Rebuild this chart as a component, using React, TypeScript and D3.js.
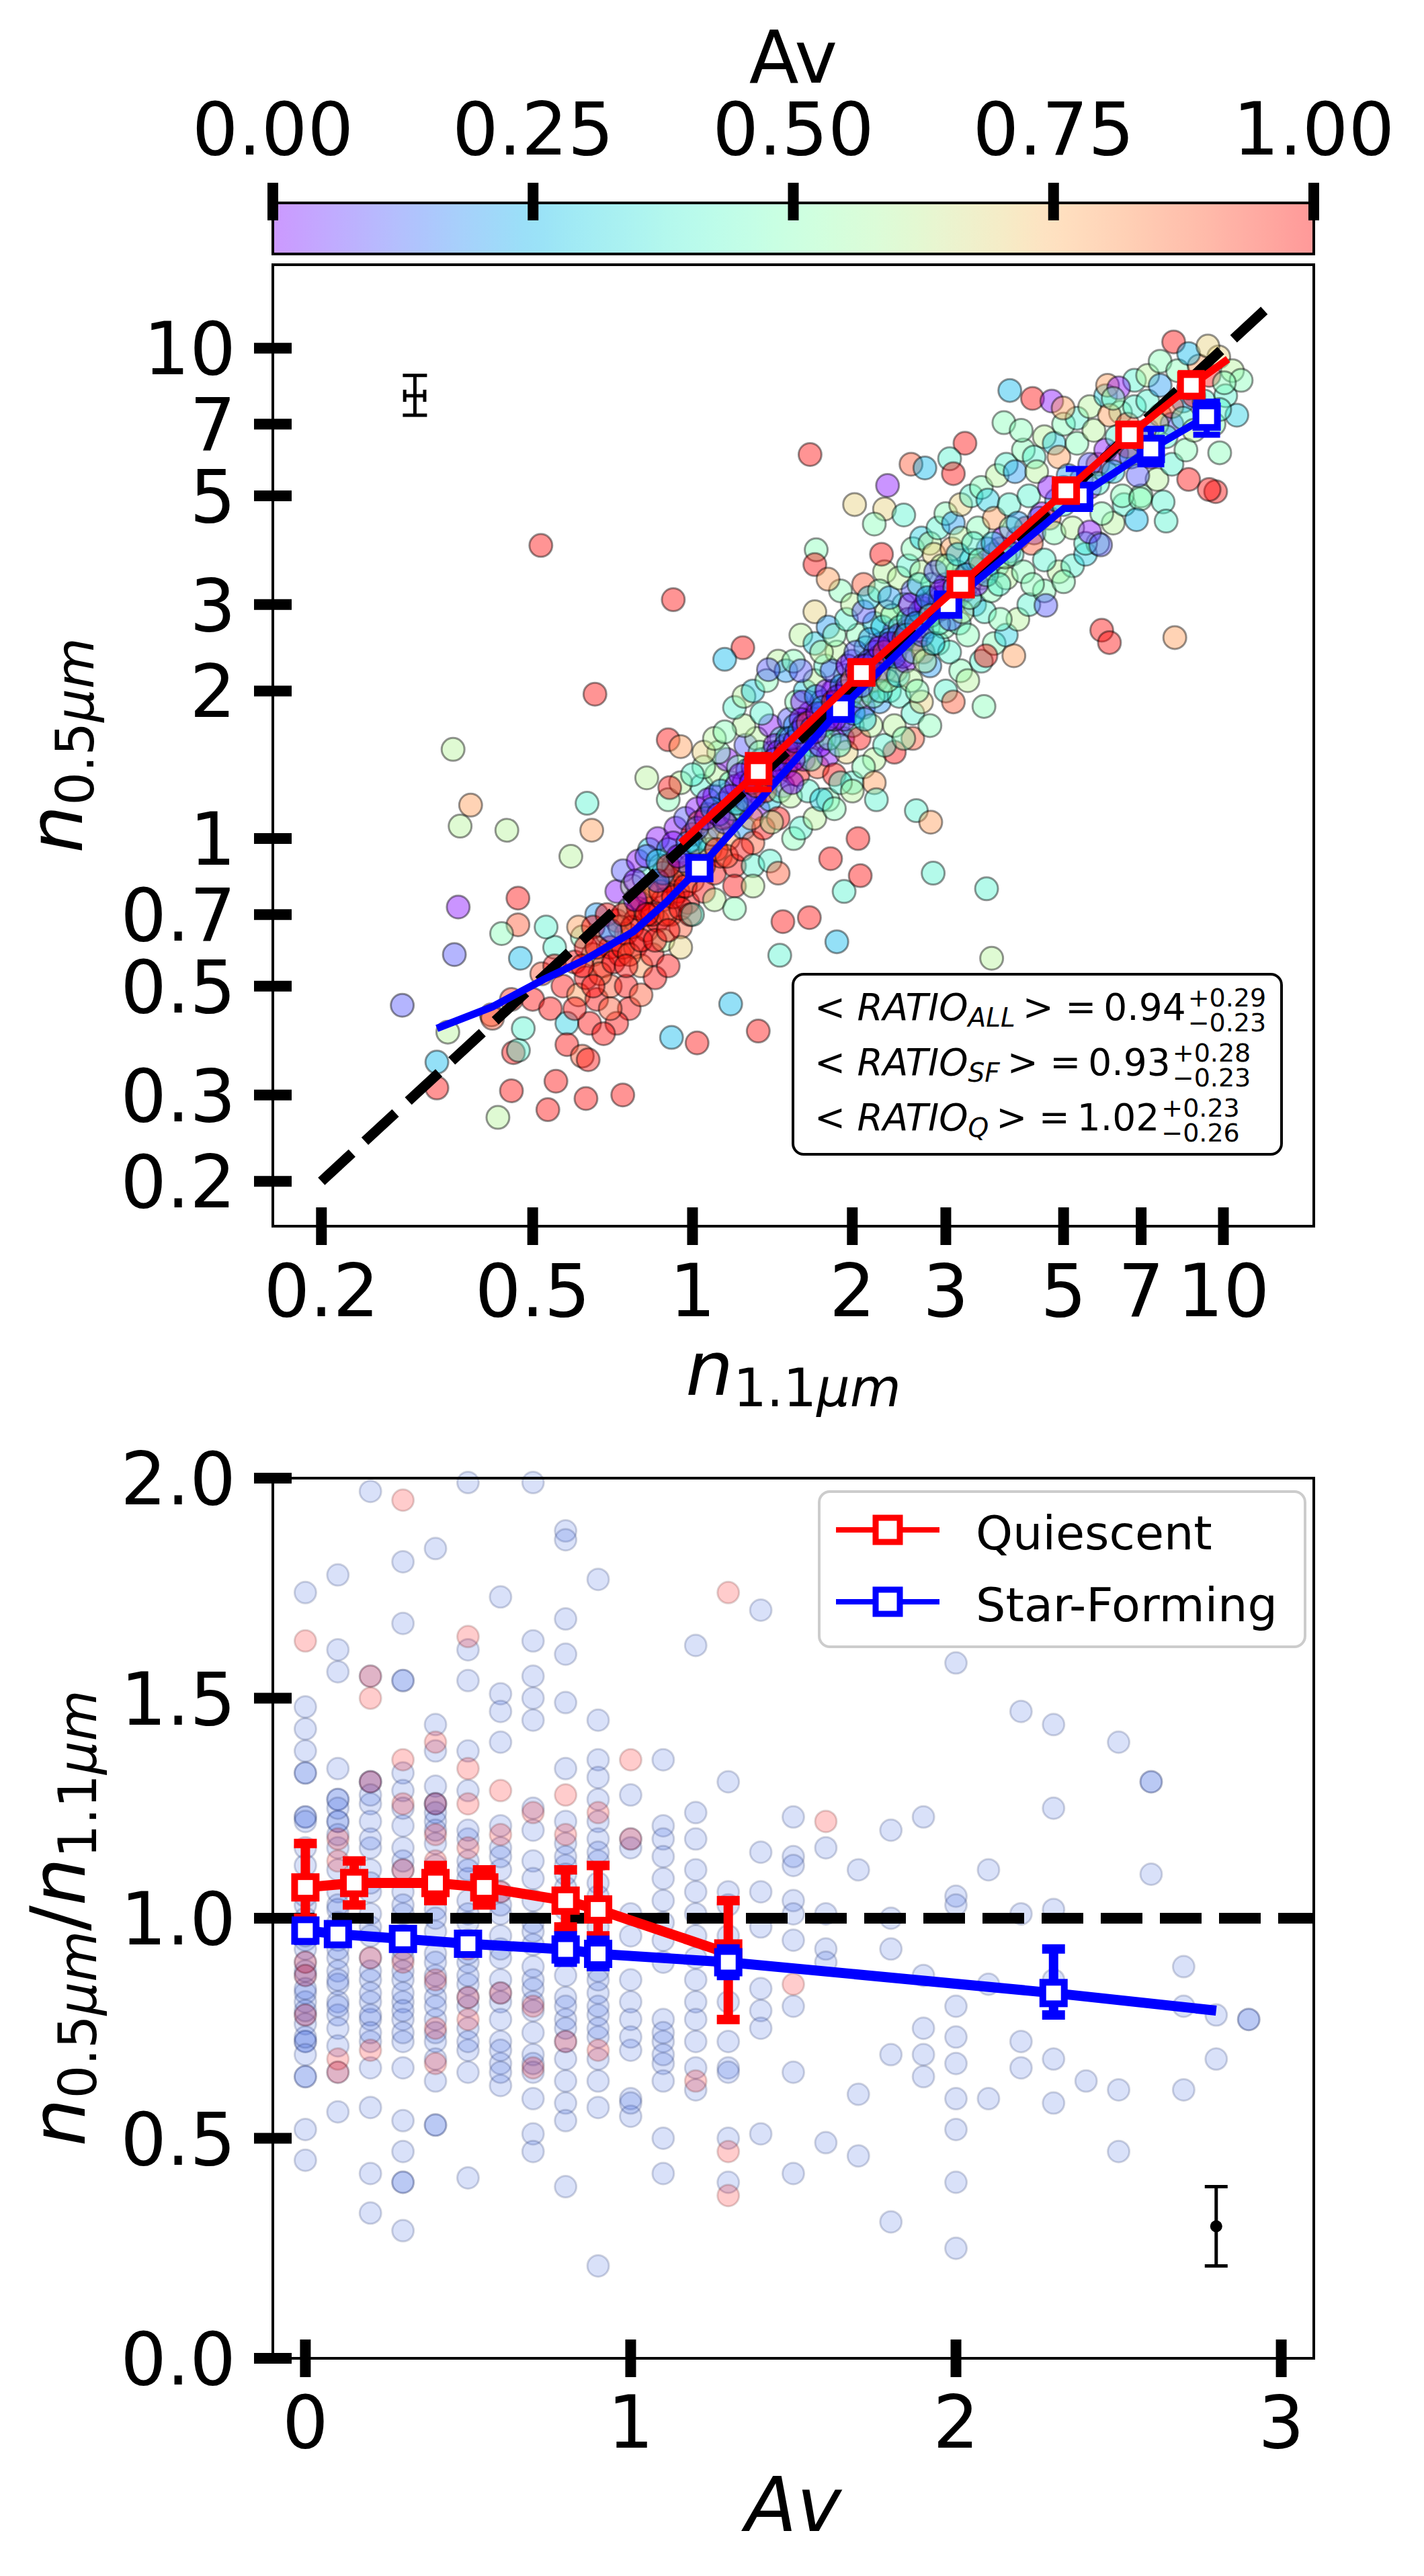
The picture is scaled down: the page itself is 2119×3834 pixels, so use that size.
import { useLayoutEffect, useRef, useState } from "react"
import * as d3 from "d3"

const FONT = "DejaVu Sans"
const W = 2119
const H = 3834

// ---- top panel: scatter of n0.5 vs n1.1, coloured by Av  [n1.1, n0.5, Av]
type Pt = [number, number, number]

const SCATTER_OUTLIERS: Pt[] = [
  [0.284, 0.457, 0.1], [0.33, 0.35, 0.25], [0.33, 0.31, 1], [0.346, 0.403, 0.6], [0.356, 0.58, 0.1],
  [0.362, 0.725, 0], [0.354, 1.52, 0.6], [0.382, 1.17, 0.8], [0.365, 1.06, 0.6], [0.447, 1.04, 0.6],
  [0.469, 0.756, 1], [0.469, 0.667, 0.9], [0.437, 0.64, 0.5], [0.474, 0.57, 0.25], [0.418, 0.437, 0.9],
  [0.456, 0.47, 0.95], [0.43, 0.27, 0.6], [0.456, 0.306, 1], [0.46, 0.366, 1], [0.47, 0.37, 0.4],
  [0.48, 0.41, 0.4], [0.518, 3.96, 1], [0.655, 1.97, 1], [0.633, 1.18, 0.4], [0.646, 1.04, 0.8],
  [0.59, 0.92, 0.6], [0.53, 0.66, 0.4], [0.42, 0.43, 0.9], [0.534, 0.28, 1], [0.553, 0.32, 1],
  [0.63, 0.295, 1], [0.636, 0.354, 1], [0.739, 0.3, 1], [0.913, 0.393, 0.25], [1.02, 0.383, 1],
  [1.18, 0.46, 0.25], [1.33, 0.405, 1], [1.87, 0.616, 0.25], [1.46, 0.578, 0.4], [1.48, 0.677, 1],
  [1.66, 0.69, 1], [1.93, 0.78, 0.4], [2.07, 0.84, 1], [1.82, 0.91, 1], [2.22, 1.2, 0.4],
  [2.64, 1.14, 0.4], [2.81, 1.08, 0.8], [2.84, 0.85, 0.4], [2.05, 1.0, 1], [1.244, 2.45, 1],
  [1.15, 2.32, 0.25], [1.39, 2.21, 0.1], [0.82, 1.33, 0.6], [0.9, 1.59, 1], [0.95, 1.54, 0.8],
  [0.906, 1.27, 1], [1.665, 6.07, 1], [0.92, 3.07, 1], [8.06, 10.3, 1], [8.6, 9.75, 0.25],
  [9.35, 10.1, 0.7], [10.04, 8.5, 0.5], [9.84, 7.5, 0.4], [9.84, 6.12, 0.5], [8.6, 5.4, 1],
  [9.67, 5.1, 1], [9.4, 5.15, 1], [6.98, 4.93, 0.5], [7.7, 4.86, 0.4], [6.86, 4.47, 0.25],
  [7.8, 4.44, 0.4], [5.9, 2.66, 1], [6.1, 2.51, 1], [8.1, 2.57, 0.8], [3.96, 8.2, 0.25],
  [4.37, 7.9, 1], [4.75, 7.8, 0], [4.99, 7.55, 0.8], [6.05, 8.4, 0.8], [6.35, 8.3, 0],
  [6.2, 7.9, 0.5], [3.86, 7.05, 0.5], [4.16, 6.8, 0.5], [3.26, 6.4, 1], [3.05, 5.95, 0.4],
  [2.58, 5.8, 0.9], [2.74, 5.7, 0.25], [3.1, 5.55, 1], [2.33, 5.25, 0], [2.02, 4.8, 0.7],
  [2.3, 4.7, 0.7], [2.5, 4.57, 0.4], [2.2, 4.38, 0.5], [1.71, 3.88, 0.5], [1.7, 3.62, 1],
  [1.8, 3.38, 0.8], [2.27, 3.8, 1], [4.63, 2.99, 0.1], [5.0, 3.34, 0.5], [4.37, 3.3, 0.5],
  [5.6, 4.22, 0], [5.87, 3.97, 0.1], [3.57, 2.36, 1], [4.03, 2.36, 0.8], [3.54, 1.86, 0.5],
  [3.66, 0.57, 0.6], [3.58, 0.79, 0.4],
]

const SCATTER_LOW: Pt[] = [
  [0.5, 0.47, 1], [0.52, 0.53, 0.9], [0.54, 0.45, 1], [0.55, 0.6, 0.4], [0.57, 0.5, 1], [0.58, 0.42, 0.3],
  [0.6, 0.56, 1], [0.61, 0.48, 0.8], [0.62, 0.63, 0.5], [0.63, 0.52, 1], [0.64, 0.42, 1], [0.65, 0.58, 0.6],
  [0.66, 0.7, 0.2], [0.66, 0.47, 1], [0.68, 0.55, 1], [0.69, 0.64, 0.4], [0.7, 0.5, 0.9], [0.7, 0.6, 1],
  [0.72, 0.68, 1], [0.72, 0.78, 0], [0.73, 0.58, 1], [0.74, 0.86, 0.1], [0.75, 0.64, 1], [0.75, 0.5, 1],
  [0.76, 0.72, 0.5], [0.77, 0.8, 0.6], [0.78, 0.6, 1], [0.78, 0.68, 0.9], [0.79, 0.9, 0], [0.8, 0.75, 1],
  [0.8, 0.55, 0.8], [0.81, 0.83, 0.4], [0.82, 0.65, 1], [0.83, 0.95, 0.3], [0.83, 0.72, 1], [0.84, 0.58, 1],
  [0.85, 0.8, 0.7], [0.86, 0.68, 1], [0.86, 1.0, 0], [0.87, 0.88, 0.5], [0.88, 0.75, 1], [0.88, 0.62, 0.6],
  [0.9, 0.82, 1], [0.9, 0.95, 0.2], [0.91, 0.7, 1], [0.92, 0.88, 0.4], [0.93, 1.05, 0], [0.94, 0.78, 1],
  [0.95, 0.66, 0.9], [0.95, 0.92, 0.6], [0.96, 0.85, 1], [0.97, 1.1, 0.1], [0.98, 0.74, 1], [0.99, 0.95, 0.5],
  [1.0, 0.82, 0.8], [1.0, 1.02, 1], [0.76, 0.45, 1], [0.8, 0.48, 0.9], [0.85, 0.52, 1], [0.72, 0.42, 1],
  [0.9, 0.55, 1], [0.95, 0.6, 0.7], [0.61, 0.66, 0.8], [0.63, 0.6, 1], [0.65, 0.66, 1], [0.67, 0.53, 0.9],
  [0.69, 0.7, 1], [0.71, 0.56, 1], [0.73, 0.66, 0.6], [0.74, 0.6, 1], [0.76, 0.58, 0.9], [0.77, 0.66, 1],
  [0.79, 0.72, 1], [0.8, 0.62, 1], [0.82, 0.78, 0.9], [0.84, 0.7, 1], [0.85, 0.62, 1], [0.87, 0.78, 1],
  [0.89, 0.7, 0.9], [0.9, 0.65, 1], [0.92, 0.76, 1], [0.93, 0.85, 0.9], [0.95, 0.72, 1], [0.97, 0.8, 1],
  [0.99, 0.7, 1], [0.99, 0.88, 0.7], [0.78, 0.82, 0], [0.82, 0.92, 0.1], [0.88, 0.85, 0.2], [0.92, 0.98, 0],
  [0.96, 0.9, 0.1], [0.86, 0.9, 0.3], [0.55, 0.55, 1], [0.6, 0.45, 1], [0.65, 0.5, 1], [0.7, 0.45, 0.9],
  [0.75, 0.55, 1], [0.68, 0.4, 1], [0.58, 0.38, 1], [0.62, 0.36, 0.9], [0.62, 0.55, 1], [0.66, 0.6, 1],
  [0.7, 0.65, 0.1], [0.74, 0.7, 1], [0.78, 0.75, 0], [0.82, 0.7, 1], [0.86, 0.82, 0.1], [0.9, 0.88, 1],
  [0.94, 0.92, 0], [0.98, 0.98, 0.2],
]

const SCATTER_MID: Pt[] = [
  [1.02, 1.15, 0], [1.03, 0.9, 1], [1.04, 1.28, 0.4], [1.05, 0.78, 1], [1.06, 1.0, 0.2], [1.07, 1.12, 0.9],
  [1.08, 0.95, 0.5], [1.1, 1.22, 0], [1.1, 0.85, 1], [1.11, 1.35, 0.6], [1.12, 1.05, 0.1], [1.13, 0.92, 1],
  [1.15, 1.18, 0.3], [1.16, 1.45, 0], [1.17, 1.0, 0.8], [1.18, 1.3, 0.45], [1.2, 0.88, 1], [1.2, 1.12, 0],
  [1.22, 1.4, 0.5], [1.23, 1.2, 1], [1.25, 1.05, 0.2], [1.26, 1.55, 0.1], [1.28, 1.25, 0], [1.3, 0.98, 0.9],
  [1.3, 1.35, 0.4], [1.32, 1.6, 0.6], [1.33, 1.15, 0], [1.35, 1.45, 0.2], [1.36, 1.05, 1], [1.38, 1.3, 0.5],
  [1.4, 1.7, 0], [1.4, 1.2, 0.3], [1.42, 1.5, 0.1], [1.44, 1.35, 0.8], [1.45, 1.1, 1], [1.47, 1.6, 0.4],
  [1.48, 1.28, 0], [1.01, 0.98, 0.3], [1.03, 1.08, 0.9], [1.05, 0.88, 1], [1.07, 1.2, 0], [1.09, 1.02, 0.7],
  [1.11, 0.95, 1], [1.13, 1.25, 0.2], [1.14, 1.1, 1], [1.16, 0.92, 0.9], [1.19, 1.15, 0.6], [1.21, 1.28, 0],
  [1.24, 0.95, 1], [1.24, 1.15, 0.4], [1.27, 1.38, 0.2], [1.29, 1.1, 0.8], [1.31, 1.22, 0], [1.34, 1.5, 0.5],
  [1.37, 1.25, 1], [1.39, 1.4, 0.1], [1.41, 1.08, 0.6], [1.43, 1.55, 0], [1.46, 1.25, 0.5], [1.49, 1.45, 0.2],
  [1.12, 1.5, 0.5], [1.25, 1.7, 0.6], [1.35, 1.8, 0.4], [1.05, 1.4, 0.5], [1.2, 0.8, 1], [1.3, 0.88, 0.4],
  [1.5, 1.4, 0], [1.52, 1.75, 0.1], [1.53, 1.22, 0.6], [1.55, 1.55, 0], [1.57, 1.9, 0.5], [1.58, 1.35, 1],
  [1.6, 1.65, 0.1], [1.62, 1.45, 0], [1.63, 2.0, 0.3], [1.65, 1.25, 0.4], [1.66, 1.8, 0], [1.68, 1.55, 0.2],
  [1.7, 2.1, 0.6], [1.72, 1.4, 0.9], [1.73, 1.7, 0], [1.75, 1.9, 0.1], [1.77, 1.6, 0.5], [1.78, 2.25, 0.4],
  [1.8, 1.48, 0], [1.82, 1.8, 0.2], [1.84, 2.0, 0], [1.85, 1.35, 1], [1.87, 2.4, 0.6], [1.88, 1.7, 0.1],
  [1.9, 1.95, 0.3], [1.92, 1.6, 0], [1.94, 2.15, 0.5], [1.95, 1.5, 0.7], [1.97, 1.85, 0], [2.0, 2.3, 0.1],
  [2.0, 1.7, 0.4], [2.02, 2.0, 0], [2.05, 2.6, 0.5], [2.06, 1.6, 1], [2.08, 2.15, 0.2], [2.1, 1.85, 0],
  [2.12, 2.45, 0.4], [2.15, 2.0, 0.1], [2.17, 1.7, 0.6], [2.18, 2.3, 0], [2.2, 2.75, 0.3], [2.22, 2.1, 0.9],
  [2.25, 1.9, 0.2], [2.27, 2.5, 0], [2.3, 2.2, 0.5], [2.32, 2.9, 0.6], [2.35, 2.0, 0.4], [2.37, 2.4, 0.1],
  [2.4, 2.65, 0], [2.42, 2.2, 0.8], [2.45, 1.95, 0.4], [2.47, 2.5, 0.2], [2.5, 3.0, 0.5], [1.6, 2.6, 0.6],
  [1.7, 2.9, 0.7], [1.9, 3.2, 0.5], [2.1, 3.3, 0.9], [2.3, 3.5, 0.6], [1.8, 1.2, 0.5], [2.0, 1.3, 0.4],
  [2.2, 1.45, 0.6], [2.4, 1.5, 1], [2.6, 1.6, 0.9], [1.51, 1.6, 0.3], [1.54, 1.3, 0], [1.56, 1.7, 0.2],
  [1.59, 1.5, 0.5], [1.61, 1.9, 0], [1.64, 1.6, 0.1], [1.67, 1.45, 0.4], [1.69, 1.75, 0], [1.71, 1.95, 0.2],
  [1.74, 1.55, 0], [1.76, 1.7, 0.3], [1.79, 2.0, 0], [1.81, 1.6, 0.5], [1.83, 2.2, 0.1], [1.86, 1.9, 0],
  [1.89, 1.55, 0.4], [1.91, 2.05, 0.2], [1.93, 1.75, 0], [1.96, 2.25, 0], [1.98, 1.95, 0.4], [2.01, 1.8, 0.2],
  [2.03, 2.4, 0.1], [2.07, 1.95, 0.5], [2.09, 2.25, 0], [2.11, 1.75, 0.3], [2.14, 2.15, 0], [2.16, 2.55, 0.2],
  [2.19, 1.95, 0.5], [2.21, 2.4, 0.1], [2.24, 2.2, 0], [2.26, 2.0, 0.4], [2.28, 2.7, 0.3], [2.31, 2.35, 0],
  [2.33, 2.1, 0.6], [2.36, 2.55, 0.2], [2.38, 2.85, 0.5], [2.41, 2.4, 0], [2.44, 2.15, 0.3], [2.46, 2.7, 0.4],
  [2.49, 2.35, 0.1], [1.25, 1.3, 0], [1.3, 1.4, 0], [1.35, 1.35, 0.1], [1.45, 1.5, 0], [1.5, 1.55, 0.1],
  [1.55, 1.45, 0], [1.6, 1.75, 0], [1.7, 1.65, 0], [1.75, 1.8, 0.1], [1.85, 1.75, 0], [1.95, 2.0, 0.1],
  [2.05, 2.1, 0], [2.15, 2.3, 0.1], [2.25, 2.35, 0], [2.4, 2.5, 0.1], [2.55, 2.7, 0], [2.7, 2.8, 0.1], [2.9, 3.0, 0],
]

// crowded ridge along the relation
const SCATTER_RIDGE: Pt[] = [
  [1.02, 1.05, 0.1], [1.06, 1.1, 0], [1.09, 1.15, 0.2], [1.12, 1.12, 0], [1.15, 1.08, 0.1], [1.18, 1.22, 0],
  [1.21, 1.18, 0.3], [1.23, 1.35, 0], [1.26, 1.2, 0.1], [1.29, 1.3, 0], [1.32, 1.28, 0.9], [1.34, 1.4, 0],
  [1.37, 1.42, 0.2], [1.4, 1.35, 0], [1.43, 1.45, 0.1], [1.46, 1.4, 0], [1.5, 1.5, 1], [1.53, 1.6, 0.1],
  [1.56, 1.58, 0], [1.59, 1.65, 0.2], [1.62, 1.7, 0], [1.65, 1.72, 0.9], [1.68, 1.68, 0.1], [1.72, 1.8, 0],
  [1.76, 1.85, 0.2], [1.8, 1.75, 0], [1.84, 1.9, 1], [1.88, 1.95, 0], [1.92, 1.9, 0.1], [1.96, 2.05, 0],
  [2.0, 2.1, 0.8], [2.04, 2.2, 0], [2.08, 2.05, 0.1], [2.12, 2.25, 0], [2.16, 2.2, 1], [2.2, 2.3, 0.1],
  [2.25, 2.45, 0], [2.3, 2.4, 0.9], [2.35, 2.5, 0], [2.4, 2.35, 0.2], [2.45, 2.6, 0.1], [2.5, 2.55, 1],
  [2.55, 2.65, 0], [2.6, 2.8, 0.1], [2.66, 2.7, 1], [2.72, 2.95, 0], [2.78, 2.85, 0.9], [2.85, 3.1, 0.1],
  [2.92, 3.0, 0], [3.0, 3.15, 1], [3.08, 3.2, 0.1], [3.15, 3.1, 0], [3.22, 3.4, 0.9], [3.3, 3.3, 0.2],
  [3.4, 3.55, 0], [3.5, 3.6, 1], [3.6, 3.5, 0.1], [3.7, 3.8, 0], [3.8, 3.9, 0.8], [3.95, 3.85, 0.1],
  [4.1, 4.1, 0], [4.25, 4.3, 1], [4.4, 4.2, 0.1], [4.55, 4.6, 0], [4.7, 4.5, 0.9], [4.85, 4.9, 0.2],
  [5.0, 5.2, 0], [5.2, 5.0, 1], [5.4, 5.4, 0.1], [5.6, 5.2, 0], [5.8, 5.8, 0.9], [6.0, 5.6, 0.1],
  [6.3, 6.1, 0], [6.6, 6.3, 1], [6.9, 6.6, 0.1], [7.2, 6.8, 0], [7.6, 7.3, 0.9], [8.0, 7.0, 0.1],
  [8.4, 7.8, 0.2], [8.8, 8.0, 1],
]

// points away from the one-to-one line (broad band of the cloud)
const SCATTER_SPREAD: Pt[] = [
  [0.9, 1.2, 0.5], [0.95, 1.3, 0.6], [1.0, 1.35, 0.4], [1.05, 1.5, 0.7], [1.1, 1.6, 0.6], [1.15, 1.65, 0.5],
  [1.2, 1.85, 0.4], [1.25, 1.95, 0.6], [1.3, 2.0, 0.3], [1.38, 2.1, 0.5], [1.45, 2.3, 0.6], [1.5, 2.2, 0.2],
  [1.0, 0.7, 0.4], [1.1, 0.75, 0.6], [1.2, 0.72, 0.5], [1.3, 0.8, 0.6], [1.4, 0.9, 0.4], [1.45, 0.85, 0.9],
  [1.55, 1.0, 0.5], [1.6, 1.05, 0.4], [1.7, 1.1, 0.6], [1.75, 1.2, 0.3], [1.85, 1.15, 0.5], [1.9, 1.3, 0.4],
  [2.0, 1.25, 0.6], [2.1, 1.4, 0.5], [2.2, 1.3, 0.8], [2.3, 1.55, 0.4], [2.4, 1.7, 0.6], [2.5, 1.6, 0.5],
  [2.6, 1.8, 0.4], [2.7, 1.9, 0.7], [2.8, 1.7, 0.5], [3.0, 2.0, 0.4], [3.1, 1.9, 0.9], [3.2, 2.2, 0.5],
  [3.3, 2.1, 0.6], [3.5, 2.3, 0.4], [3.7, 2.5, 0.5], [3.9, 2.6, 0.3], [4.1, 2.8, 0.6], [4.3, 3.0, 0.4],
  [4.6, 3.2, 0.5], [4.9, 3.5, 0.6], [5.2, 3.6, 0.4], [5.5, 3.8, 0.3], [5.8, 4.0, 0.5], [6.2, 4.4, 0.6],
  [6.5, 4.8, 0.4], [7.0, 5.0, 0.5], [7.5, 5.4, 0.6], [8.0, 5.8, 0.4], [8.5, 6.2, 0.5], [1.55, 2.3, 0.5],
  [1.6, 2.2, 0.1], [1.7, 2.5, 0.3], [1.75, 2.4, 0.6], [1.8, 2.7, 0.2], [1.85, 2.6, 0.5], [1.95, 2.8, 0.4],
  [2.0, 3.0, 0.6], [2.1, 2.9, 0.1], [2.15, 3.1, 0.3], [2.25, 3.2, 0.5], [2.35, 3.1, 0.2], [2.45, 3.4, 0.6],
  [2.55, 3.6, 0.4], [2.6, 3.9, 0.5], [2.7, 4.1, 0.3], [2.8, 4.0, 0.6], [2.9, 4.3, 0.4], [3.0, 4.6, 0.5],
  [3.1, 4.4, 0.2], [3.2, 4.8, 0.7], [3.35, 5.0, 0.4], [3.5, 5.2, 0.5], [3.6, 4.9, 0.3], [3.75, 5.5, 0.6],
  [3.9, 5.8, 0.4], [4.05, 5.6, 0.2], [4.2, 6.2, 0.5], [4.4, 6.0, 0.4], [4.6, 6.6, 0.6], [4.8, 6.4, 0.3],
  [5.0, 7.0, 0.5], [5.3, 7.2, 0.4], [5.6, 7.6, 0.6], [6.0, 8.0, 0.3], [6.4, 7.4, 0.5], [6.8, 8.6, 0.4],
  [7.2, 8.8, 0.6], [7.6, 9.4, 0.5],
]

const SCATTER_HIGH: Pt[] = [
  [2.52, 2.3, 0], [2.55, 2.8, 0.4], [2.58, 2.1, 0.6], [2.6, 3.2, 0.1], [2.63, 2.55, 0], [2.65, 2.0, 0.5],
  [2.68, 2.9, 0.3], [2.7, 3.5, 0.6], [2.72, 2.4, 0.9], [2.75, 3.0, 0], [2.78, 2.7, 0.4], [2.8, 2.25, 0.2],
  [2.83, 3.3, 0.5], [2.85, 3.8, 0.7], [2.88, 2.9, 0], [2.9, 2.5, 0.4], [2.93, 3.1, 0.1], [2.95, 3.6, 0.6],
  [2.98, 2.7, 0.5], [3.0, 3.3, 0], [3.05, 2.4, 0.4], [3.08, 3.9, 0.8], [3.1, 3.0, 0.3], [3.15, 3.5, 0.5],
  [3.18, 2.75, 0.4], [3.2, 4.1, 0.6], [3.25, 3.2, 0], [3.3, 2.6, 0.5], [3.35, 3.7, 0.4], [3.4, 3.0, 0.2],
  [3.45, 4.3, 0.5], [3.5, 3.4, 0.7], [3.55, 2.9, 0.4], [3.6, 3.9, 0.1], [3.65, 3.2, 0.5], [3.7, 4.5, 0.8],
  [3.75, 3.6, 0.4], [3.8, 2.8, 0.5], [3.85, 4.1, 0], [3.9, 3.4, 0.6], [3.95, 4.8, 0.4], [2.53, 2.6, 0.3],
  [2.57, 3.0, 0], [2.61, 2.4, 0.5], [2.64, 2.75, 0.2], [2.67, 3.3, 0.4], [2.71, 2.6, 0.1], [2.74, 2.3, 0.6],
  [2.77, 3.1, 0.2], [2.81, 2.85, 0.5], [2.84, 2.5, 0.3], [2.87, 3.5, 0.1], [2.91, 2.75, 0.4], [2.94, 3.2, 0],
  [2.97, 2.95, 0.6], [3.02, 3.6, 0.5], [3.06, 2.8, 0.1], [3.12, 3.25, 0.4], [3.16, 3.8, 0.3], [3.22, 2.9, 0.6],
  [3.28, 3.45, 0.2], [3.33, 3.1, 0.5], [3.38, 4.0, 0.4], [3.43, 3.3, 0], [3.48, 3.7, 0.5], [3.58, 3.45, 0.4],
  [3.68, 4.0, 0.3], [3.78, 3.3, 0.4], [3.88, 3.75, 0.6], [3.98, 4.3, 0.5], [4.0, 3.8, 0.4], [4.1, 4.4, 0.2],
  [4.2, 3.5, 0.5], [4.3, 5.0, 0.4], [4.35, 4.0, 0.9], [4.45, 5.6, 0.6], [4.5, 4.5, 0.1], [4.6, 3.7, 0.4],
  [4.7, 5.2, 0], [4.8, 4.2, 0.5], [4.9, 6.0, 0.8], [5.0, 4.8, 0.4], [5.1, 5.5, 0.2], [5.2, 4.3, 0.6],
  [5.3, 6.4, 0.5], [5.4, 5.0, 0], [5.5, 4.0, 0.4], [5.6, 5.8, 0.1], [5.7, 6.8, 0.6], [5.8, 5.3, 0.4],
  [5.9, 4.6, 0.5], [6.0, 6.2, 0], [6.1, 7.3, 0.8], [6.2, 5.6, 0.3], [6.3, 6.6, 0.4], [6.45, 5.0, 0.5],
  [6.6, 7.0, 0.9], [6.7, 6.0, 0.2], [6.8, 7.6, 0.4], [6.9, 5.5, 0.1], [7.0, 6.5, 0.5], [7.2, 7.8, 0.4],
  [7.3, 6.0, 0], [7.5, 7.0, 0.6], [7.6, 8.4, 0.2], [7.8, 6.6, 0.4], [8.0, 7.6, 0.9], [8.2, 9.0, 0.5],
  [8.4, 7.2, 0.4], [8.6, 8.3, 0], [8.8, 6.8, 0.6], [9.0, 9.2, 0.8], [9.2, 7.8, 0.4], [9.4, 8.8, 1],
  [9.6, 7.0, 0.5], [9.8, 9.6, 0.7], [10.1, 8.0, 0.4], [10.4, 9.0, 0.6], [10.6, 7.3, 0.3], [10.8, 8.6, 0.5],
]

// running medians (top panel)
const Q_TOP_X = [0.95, 1.33, 2.08, 3.2, 5.05, 6.65, 8.7, 10.2]
const Q_TOP_Y = [0.98, 1.37, 2.18, 3.3, 5.12, 6.66, 8.4, 9.5]
const Q_TOP_LO = [0, 1.26, 2.08, 3.18, 4.92, 6.4, 8.0, 0]
const Q_TOP_HI = [0, 1.48, 2.3, 3.45, 5.4, 6.95, 8.9, 0]
const Q_TOP_MARK = [false, true, true, true, true, true, true, false]

const SF_TOP_X = [0.33, 0.42, 0.524, 0.631, 0.774, 0.89, 1.03, 1.9, 3.03, 5.35, 7.3, 9.3]
const SF_TOP_Y = [0.41, 0.454, 0.516, 0.568, 0.646, 0.74, 0.87, 1.84, 3.0, 5.0, 6.23, 7.25]
const SF_TOP_LO = [0, 0, 0, 0, 0, 0, 0.84, 1.78, 2.9, 4.7, 5.8, 6.66]
const SF_TOP_HI = [0, 0, 0, 0, 0, 0, 0.9, 1.9, 3.1, 5.67, 6.85, 7.78]
const SF_TOP_MARK = [false, false, false, false, false, false, true, true, true, true, true, true]

const ONE_TO_ONE = [0.2, 12.1]
const TYPICAL_ERR_TOP = { x: 0.3, y: 8.0, xlo: 0.287, xhi: 0.313, ylo: 7.3, yhi: 8.8 }

const RATIO_ROWS = [
  { sub: "ALL", val: "0.94", hi: "+0.29", lo: "\u22120.23" },
  { sub: "SF", val: "0.93", hi: "+0.28", lo: "\u22120.23" },
  { sub: "Q", val: "1.02", hi: "+0.23", lo: "\u22120.26" },
]

const TOP_X_TICKS = [0.2, 0.5, 1, 2, 3, 5, 7, 10]
const TOP_Y_TICKS = [0.2, 0.3, 0.5, 0.7, 1, 2, 3, 5, 7, 10]
const CBAR_TICKS = [0, 0.25, 0.5, 0.75, 1]

// ---- bottom panel: ratio vs Av  [Av, ratios...]
const SF_COLUMNS: [number, number[]][] = [
  [0, [1.74, 1.48, 1.43, 1.38, 1.33, 1.33, 1.23, 1.23, 1.16, 1.12, 1.08, 1.03, 1.0, 0.95, 0.93, 0.9, 0.87, 0.83, 0.81, 0.78, 0.76, 0.72, 0.72, 0.64, 0.64, 0.52, 0.45]],
  [0.1, [1.78, 1.61, 1.56, 1.34, 1.27, 1.27, 1.22, 1.22, 1.16, 1.11, 1.06, 1.03, 0.99, 0.95, 0.91, 0.88, 0.85, 0.81, 0.78, 0.75, 0.65, 0.56]],
  [0.2, [1.97, 1.55, 1.31, 1.31, 1.26, 1.22, 1.16, 1.11, 1.06, 1.01, 0.96, 0.91, 0.86, 0.81, 0.77, 0.72, 0.66, 0.57, 0.42, 0.33]],
  [0.3, [1.81, 1.67, 1.54, 1.54, 1.33, 1.29, 1.21, 1.16, 1.11, 1.06, 1.01, 0.96, 0.91, 0.86, 0.81, 0.77, 0.72, 0.66, 0.54, 0.47, 0.4, 0.4, 0.29]],
  [0.4, [1.84, 1.44, 1.38, 1.3, 1.26, 1.26, 1.22, 1.17, 1.12, 1.07, 1.02, 0.97, 0.92, 0.87, 0.82, 0.77, 0.72, 0.68, 0.63, 0.53, 0.53]],
  [0.5, [1.99, 1.61, 1.54, 1.38, 1.29, 1.18, 1.13, 1.09, 1.04, 0.99, 0.95, 0.9, 0.85, 0.8, 0.75, 0.7, 0.65, 0.41]],
  [0.6, [1.73, 1.51, 1.47, 1.4, 1.21, 1.16, 1.11, 1.06, 1.01, 0.96, 0.91, 0.86, 0.81, 0.77, 0.72, 0.67, 0.62]],
  [0.7, [1.99, 1.63, 1.55, 1.5, 1.45, 1.25, 1.13, 1.09, 1.04, 0.99, 0.94, 0.89, 0.84, 0.79, 0.74, 0.69, 0.65, 0.59, 0.51, 0.47]],
  [0.8, [1.88, 1.86, 1.68, 1.6, 1.49, 1.34, 1.22, 1.17, 1.12, 1.07, 1.02, 0.97, 0.92, 0.87, 0.82, 0.77, 0.72, 0.68, 0.63, 0.58, 0.54, 0.39]],
  [0.9, [1.77, 1.45, 1.36, 1.32, 1.27, 1.22, 1.18, 1.13, 1.08, 1.03, 0.98, 0.93, 0.88, 0.83, 0.78, 0.73, 0.68, 0.63, 0.57, 0.21]],
  [1.0, [1.28, 1.18, 1.16, 1.01, 0.96, 0.86, 0.81, 0.77, 0.7, 0.59, 0.55]],
  [1.1, [1.36, 1.21, 1.18, 1.14, 1.09, 1.04, 0.99, 0.95, 0.9, 0.77, 0.72, 0.67, 0.63, 0.5, 0.42]],
  [1.2, [1.62, 1.24, 1.18, 1.11, 1.06, 1.01, 0.96, 0.91, 0.86, 0.81, 0.77, 0.72, 0.66, 0.61]],
  [1.3, [1.31, 1.06, 1.03, 0.96, 0.91, 0.81, 0.72, 0.66, 0.65, 0.5, 0.4]],
  [1.4, [1.7, 1.15, 1.06, 0.98, 0.84, 0.79, 0.75, 0.51]],
  [1.5, [1.23, 1.14, 1.12, 1.04, 1.01, 0.95, 0.8, 0.65, 0.42]],
  [1.6, [1.16, 1.01, 0.93, 0.9, 0.49]],
  [1.7, [1.11, 0.6, 0.46]],
  [1.8, [1.2, 1.0, 0.93, 0.69, 0.31]],
  [1.9, [1.23, 0.87, 0.75, 0.69, 0.64]],
  [2.0, [1.58, 1.05, 1.03, 0.8, 0.73, 0.67, 0.59, 0.52, 0.4, 0.25]],
  [2.1, [1.11, 0.85, 0.59]],
  [2.2, [1.47, 1.01, 0.72, 0.66]],
  [2.3, [1.44, 1.25, 1.02, 0.86, 0.68, 0.58]],
  [2.4, [0.63]],
  [2.5, [1.4, 0.61, 0.47]],
  [2.6, [1.31, 1.31, 1.1]],
  [2.7, [0.89, 0.8, 0.61]],
  [2.8, [0.78, 0.68]],
  [2.9, [0.77, 0.77]],
]

// galaxies that overlap in the crowded part of the low-Av columns
const SF_COLUMNS_CROWDED: [number, number[]][] = [
  [0, [1.22, 1.05, 0.96, 0.88, 0.84, 0.79, 0.73, 0.69]],
  [0.1, [1.25, 1.19, 1.02, 0.93, 0.86, 0.8, 0.71]],
  [0.2, [1.28, 1.18, 1.08, 0.98, 0.88, 0.83, 0.78, 0.74]],
  [0.3, [1.25, 1.13, 1.03, 0.93, 0.88, 0.83, 0.79, 0.74]],
  [0.4, [1.24, 1.2, 1.1, 1.0, 0.9, 0.85, 0.8, 0.74]],
  [0.5, [1.2, 1.11, 1.01, 0.92, 0.87, 0.82, 0.72]],
  [0.6, [1.14, 1.03, 0.93, 0.83, 0.7, 0.65]],
  [0.7, [1.2, 0.97, 0.86, 0.81, 0.67]],
  [0.8, [1.14, 1.1, 0.94, 0.8, 0.75]],
  [0.9, [1.15, 1.05, 0.86, 0.8, 0.75]],
  [1.0, [0.58, 0.73]],
  [1.1, [0.74, 0.69]],
]

const Q_COLUMNS: [number, number[]][] = [
  [0, [1.63, 0.9, 0.87, 0.78]],
  [0.1, [1.18, 1.13, 0.68, 0.65]],
  [0.2, [1.55, 1.5, 1.31, 0.91, 0.7]],
  [0.3, [1.95, 1.36, 1.26, 1.11, 0.9]],
  [0.4, [1.4, 1.26, 1.19, 1.13, 0.86, 0.75, 0.67]],
  [0.5, [1.64, 1.34, 1.26, 1.16, 0.93, 0.82, 0.77]],
  [0.6, [1.29, 1.19, 1.06, 0.83]],
  [0.7, [1.24, 0.8, 0.66]],
  [0.8, [1.28, 1.19, 0.72]],
  [0.9, [1.24, 0.7]],
  [1.0, [1.36, 1.18]],
  [1.2, [0.63]],
  [1.3, [1.74, 0.47, 0.37]],
  [1.5, [0.85]],
  [1.6, [1.22]],
]

const Q_AV = [0, 0.15, 0.4, 0.55, 0.8, 0.9, 1.3]
const Q_RATIO = [1.07, 1.08, 1.08, 1.07, 1.04, 1.02, 0.92]
const Q_LO = [1.0, 1.03, 1.04, 1.03, 0.98, 0.96, 0.77]
const Q_HI = [1.17, 1.13, 1.12, 1.11, 1.11, 1.12, 1.04]

const SF_AV = [0, 0.1, 0.3, 0.5, 0.8, 0.9, 1.3, 2.3, 2.8]
const SF_RATIO = [0.972, 0.964, 0.953, 0.942, 0.929, 0.919, 0.9, 0.83, 0.79]
const SF_LO = [0.95, 0.95, 0.94, 0.93, 0.9, 0.89, 0.87, 0.78, 0]
const SF_HI = [0.99, 0.98, 0.97, 0.96, 0.96, 0.95, 0.93, 0.93, 0]
const SF_MARK = [true, true, true, true, true, true, true, true, false]

const TYPICAL_ERR_BOT = { x: 2.8, y: 0.3, lo: 0.21, hi: 0.39 }

const BOT_X_TICKS = [0, 1, 2, 3]
const BOT_Y_TICKS = [0, 0.5, 1, 1.5, 2]

// ---- layout
const TOP = { left: 406, right: 1955, top: 394, bottom: 1825 }
const CBAR = { top: 302, bottom: 378 }
const BOT = { left: 406, right: 1955, top: 2200, bottom: 3510 }
const TICK_FS = 108
const LABEL_FS = 112
const TICK_W = 16
const TICK_HALF = 28

const xTop = d3.scaleLog().domain([0.162, 14.8]).range([TOP.left, TOP.right])
const yTop = d3.scaleLog().domain([0.162, 14.8]).range([TOP.bottom, TOP.top])
const cbar = d3.scaleLinear().domain([0, 1]).range([TOP.left, TOP.right])
const xBot = d3.scaleLinear().domain([-0.1, 3.1]).range([BOT.left, BOT.right])
const yBot = d3.scaleLinear().domain([0, 2]).range([BOT.bottom, BOT.top])

// matplotlib "rainbow"
function rainbow(t: number) {
  const v = Math.max(0, Math.min(1, t))
  return d3.rgb(
    Math.min(1, Math.abs(2 * v - 0.5)) * 255,
    Math.sin(Math.PI * v) * 255,
    Math.cos((Math.PI * v) / 2) * 255
  )
}
function overWhite(c: d3.RGBColor, a: number) {
  return d3.rgb(c.r * a + 255 * (1 - a), c.g * a + 255 * (1 - a), c.b * a + 255 * (1 - a)).formatHex()
}

function Square({ x, y, color, size = 32, sw = 10 }: { x: number; y: number; color: string; size?: number; sw?: number }) {
  return <rect x={x - size / 2} y={y - size / 2} width={size} height={size} fill="white" stroke={color} strokeWidth={sw} />
}

function ErrBar({ x, y1, y2, color, w, cap }: { x: number; y1: number; y2: number; color: string; w: number; cap: number }) {
  return (
    <g stroke={color}>
      <line x1={x} x2={x} y1={y1} y2={y2} strokeWidth={w} />
      <line x1={x - cap / 2} x2={x + cap / 2} y1={y1} y2={y1} strokeWidth={w} />
      <line x1={x - cap / 2} x2={x + cap / 2} y1={y2} y2={y2} strokeWidth={w} />
    </g>
  )
}

function RatioLine({ x, y, sub, val, hi, lo }: { x: number; y: number; sub: string; val: string; hi: string; lo: string }) {
  const ref = useRef<SVGTextElement>(null)
  const [w, setW] = useState(0)
  useLayoutEffect(() => {
    if (ref.current) setW(ref.current.getComputedTextLength())
  }, [])
  return (
    <g fontFamily={FONT}>
      <text ref={ref} x={x} y={y} fontSize={55}>
        <tspan>{"< "}</tspan>
        <tspan fontStyle="italic">RATIO</tspan>
        <tspan fontStyle="italic" fontSize={39} dy={10}>{sub}</tspan>
        <tspan dy={-10}>{"\u2009> =\u2009" + val}</tspan>
      </text>
      {w > 0 && (
        <g fontSize={38}>
          <text x={x + w + 3} y={y - 20}>{hi}</text>
          <text x={x + w + 3} y={y + 17}>{lo}</text>
        </g>
      )}
    </g>
  )
}

function TopPanel() {
  const points = [...SCATTER_LOW, ...SCATTER_MID, ...SCATTER_SPREAD, ...SCATTER_RIDGE, ...SCATTER_HIGH, ...SCATTER_OUTLIERS]
  const lineTop = d3.line<number>()
  const sfPath = lineTop(SF_TOP_X.map((v, i) => [xTop(v), yTop(SF_TOP_Y[i])]) as any) ?? ""
  const qPath = lineTop(Q_TOP_X.map((v, i) => [xTop(v), yTop(Q_TOP_Y[i])]) as any) ?? ""
  const stops = d3.range(0, 1.0001, 0.02)
  const e = TYPICAL_ERR_TOP
  return (
    <g>
      {/* colourbar */}
      <defs>
        <linearGradient id="cbar" x1="0" x2="1" y1="0" y2="0">
          {stops.map((s) => (
            <stop key={s} offset={s} stopColor={overWhite(rainbow(s), 0.4)} />
          ))}
        </linearGradient>
      </defs>
      <rect x={TOP.left} y={CBAR.top} width={TOP.right - TOP.left} height={CBAR.bottom - CBAR.top} fill="url(#cbar)" stroke="black" strokeWidth={4} />
      {CBAR_TICKS.map((t) => (
        <g key={t}>
          <line x1={cbar(t)} x2={cbar(t)} y1={CBAR.top - TICK_HALF - 2} y2={CBAR.top + TICK_HALF - 2} stroke="black" strokeWidth={TICK_W} />
          <text x={cbar(t)} y={230} textAnchor="middle" fontSize={TICK_FS} fontFamily={FONT}>{t.toFixed(2)}</text>
        </g>
      ))}
      <text x={(TOP.left + TOP.right) / 2} y={123} textAnchor="middle" fontSize={TICK_FS} fontFamily={FONT}>Av</text>

      {/* scatter */}
      {points.map((p, i) => (
        <circle key={i} cx={xTop(p[0])} cy={yTop(p[1])} r={17} fill={rainbow(p[2]).formatHex()} fillOpacity={0.42} stroke="black" strokeOpacity={0.42} strokeWidth={3} />
      ))}

      {/* 1:1 */}
      <line x1={xTop(ONE_TO_ONE[0])} y1={yTop(ONE_TO_ONE[0])} x2={xTop(ONE_TO_ONE[1])} y2={yTop(ONE_TO_ONE[1])} stroke="black" strokeWidth={15} strokeDasharray="62 26" />

      {/* star-forming */}
      <path d={sfPath} fill="none" stroke="blue" strokeWidth={11} />
      {SF_TOP_X.map((v, i) =>
        SF_TOP_MARK[i] ? (
          <g key={i}>
            <ErrBar x={xTop(v)} y1={yTop(SF_TOP_HI[i])} y2={yTop(SF_TOP_LO[i])} color="blue" w={9} cap={40} />
            <Square x={xTop(v)} y={yTop(SF_TOP_Y[i])} color="blue" />
          </g>
        ) : null
      )}
      {/* quiescent */}
      <path d={qPath} fill="none" stroke="red" strokeWidth={11} />
      {Q_TOP_X.map((v, i) =>
        Q_TOP_MARK[i] ? (
          <g key={i}>
            <ErrBar x={xTop(v)} y1={yTop(Q_TOP_HI[i])} y2={yTop(Q_TOP_LO[i])} color="red" w={9} cap={40} />
            <Square x={xTop(v)} y={yTop(Q_TOP_Y[i])} color="red" />
          </g>
        ) : null
      )}

      {/* typical error */}
      <g stroke="black" strokeWidth={5}>
        <line x1={xTop(e.x)} x2={xTop(e.x)} y1={yTop(e.yhi)} y2={yTop(e.ylo)} />
        <line x1={xTop(e.x) - 18} x2={xTop(e.x) + 18} y1={yTop(e.yhi)} y2={yTop(e.yhi)} />
        <line x1={xTop(e.x) - 18} x2={xTop(e.x) + 18} y1={yTop(e.ylo)} y2={yTop(e.ylo)} />
        <line x1={xTop(e.xlo)} x2={xTop(e.xhi)} y1={yTop(e.y)} y2={yTop(e.y)} />
        <line x1={xTop(e.xlo)} x2={xTop(e.xlo)} y1={yTop(e.y) - 9} y2={yTop(e.y) + 9} />
        <line x1={xTop(e.xhi)} x2={xTop(e.xhi)} y1={yTop(e.y) - 9} y2={yTop(e.y) + 9} />
      </g>

      {/* ratio box */}
      <rect x={1180} y={1450} width={727} height={268} rx={16} fill="white" stroke="black" strokeWidth={4} />
      {RATIO_ROWS.map((r, i) => (
        <RatioLine key={r.sub} x={1212} y={1518 + i * 82} sub={r.sub} val={r.val} hi={r.hi} lo={r.lo} />
      ))}

      {/* axes */}
      <rect x={TOP.left} y={TOP.top} width={TOP.right - TOP.left} height={TOP.bottom - TOP.top} fill="none" stroke="black" strokeWidth={4} />
      {TOP_X_TICKS.map((t) => (
        <g key={t}>
          <line x1={xTop(t)} x2={xTop(t)} y1={TOP.bottom - TICK_HALF} y2={TOP.bottom + TICK_HALF} stroke="black" strokeWidth={TICK_W} />
          <text x={xTop(t)} y={1959} textAnchor="middle" fontSize={TICK_FS} fontFamily={FONT}>{String(t)}</text>
        </g>
      ))}
      {TOP_Y_TICKS.map((t) => (
        <g key={t}>
          <line x1={TOP.left - TICK_HALF} x2={TOP.left + TICK_HALF} y1={yTop(t)} y2={yTop(t)} stroke="black" strokeWidth={TICK_W} />
          <text x={351} y={yTop(t) + 39} textAnchor="end" fontSize={TICK_FS} fontFamily={FONT}>{String(t)}</text>
        </g>
      ))}
      <text x={(TOP.left + TOP.right) / 2} y={2076} textAnchor="middle" fontSize={LABEL_FS} fontFamily={FONT}>
        <tspan fontStyle="italic">n</tspan>
        <tspan fontSize={78} dy={17}>1.1</tspan>
        <tspan fontSize={78} fontStyle="italic">μm</tspan>
      </text>
      <text transform={`translate(122,${(TOP.top + TOP.bottom) / 2}) rotate(-90)`} textAnchor="middle" fontSize={LABEL_FS} fontFamily={FONT}>
        <tspan fontStyle="italic">n</tspan>
        <tspan fontSize={78} dy={17}>0.5</tspan>
        <tspan fontSize={78} fontStyle="italic">μm</tspan>
      </text>
    </g>
  )
}

function BottomPanel() {
  const line = d3.line<number>()
  const qPath = line(Q_AV.map((v, i) => [xBot(v), yBot(Q_RATIO[i])]) as any) ?? ""
  const sfPath = line(SF_AV.map((v, i) => [xBot(v), yBot(SF_RATIO[i])]) as any) ?? ""
  const e = TYPICAL_ERR_BOT
  const sfCols = [...SF_COLUMNS, ...SF_COLUMNS_CROWDED]
  return (
    <g>
      {sfCols.flatMap(([av, rs], k) =>
        rs.map((r, j) => (
          <circle key={`s${k}-${j}`} cx={xBot(av)} cy={yBot(r)} r={16} fill="royalblue" fillOpacity={0.2} stroke="#1a2a60" strokeOpacity={0.2} strokeWidth={3} />
        ))
      )}
      {Q_COLUMNS.flatMap(([av, rs]) =>
        rs.map((r, j) => (
          <circle key={`q${av}-${j}`} cx={xBot(av)} cy={yBot(r)} r={16} fill="red" fillOpacity={0.2} stroke="#602020" strokeOpacity={0.2} strokeWidth={3} />
        ))
      )}

      <line x1={BOT.left} x2={BOT.right} y1={yBot(1)} y2={yBot(1)} stroke="black" strokeWidth={16} strokeDasharray="62 26" />

      <path d={qPath} fill="none" stroke="red" strokeWidth={15} />
      {Q_AV.map((v, i) => (
        <g key={i}>
          <ErrBar x={xBot(v)} y1={yBot(Q_HI[i])} y2={yBot(Q_LO[i])} color="red" w={14} cap={34} />
          <Square x={xBot(v)} y={yBot(Q_RATIO[i])} color="red" />
        </g>
      ))}
      <path d={sfPath} fill="none" stroke="blue" strokeWidth={15} />
      {SF_AV.map((v, i) =>
        SF_MARK[i] ? (
          <g key={i}>
            <ErrBar x={xBot(v)} y1={yBot(SF_HI[i])} y2={yBot(SF_LO[i])} color="blue" w={14} cap={34} />
            <Square x={xBot(v)} y={yBot(SF_RATIO[i])} color="blue" />
          </g>
        ) : null
      )}

      {/* typical error */}
      <g stroke="black" strokeWidth={5}>
        <line x1={xBot(e.x)} x2={xBot(e.x)} y1={yBot(e.hi)} y2={yBot(e.lo)} />
        <line x1={xBot(e.x) - 17} x2={xBot(e.x) + 17} y1={yBot(e.hi)} y2={yBot(e.hi)} />
        <line x1={xBot(e.x) - 17} x2={xBot(e.x) + 17} y1={yBot(e.lo)} y2={yBot(e.lo)} />
      </g>
      <circle cx={xBot(e.x)} cy={yBot(e.y)} r={9} fill="black" />

      {/* legend */}
      <rect x={1219} y={2220} width={723} height={231} rx={16} fill="white" fillOpacity={0.8} stroke="#cccccc" strokeWidth={4} />
      {[
        { label: "Quiescent", color: "red" },
        { label: "Star-Forming", color: "blue" },
      ].map((d, i) => (
        <g key={d.label}>
          <line x1={1244} x2={1398} y1={2277 + i * 107} y2={2277 + i * 107} stroke={d.color} strokeWidth={8} />
          <Square x={1321} y={2277 + i * 107} color={d.color} size={36} sw={9} />
          <text x={1452} y={2306 + i * 107} fontSize={70} fontFamily={FONT}>{d.label}</text>
        </g>
      ))}

      {/* axes */}
      <rect x={BOT.left} y={BOT.top} width={BOT.right - BOT.left} height={BOT.bottom - BOT.top} fill="none" stroke="black" strokeWidth={4} />
      {BOT_X_TICKS.map((t) => (
        <g key={t}>
          <line x1={xBot(t)} x2={xBot(t)} y1={BOT.bottom - TICK_HALF} y2={BOT.bottom + TICK_HALF} stroke="black" strokeWidth={TICK_W} />
          <text x={xBot(t)} y={3643} textAnchor="middle" fontSize={TICK_FS} fontFamily={FONT}>{String(t)}</text>
        </g>
      ))}
      {BOT_Y_TICKS.map((t) => (
        <g key={t}>
          <line x1={BOT.left - TICK_HALF} x2={BOT.left + TICK_HALF} y1={yBot(t)} y2={yBot(t)} stroke="black" strokeWidth={TICK_W} />
          <text x={351} y={yBot(t) + 39} textAnchor="end" fontSize={TICK_FS} fontFamily={FONT}>{t.toFixed(1)}</text>
        </g>
      ))}
      <text x={(BOT.left + BOT.right) / 2} y={3767} textAnchor="middle" fontSize={LABEL_FS} fontFamily={FONT} fontStyle="italic">Av</text>
      <text transform={`translate(126,${(BOT.top + BOT.bottom) / 2}) rotate(-90)`} textAnchor="middle" fontSize={LABEL_FS} fontFamily={FONT}>
        <tspan fontStyle="italic">n</tspan>
        <tspan fontSize={78} dy={17}>0.5</tspan>
        <tspan fontSize={78} fontStyle="italic">μm</tspan>
        <tspan dy={-17}>/</tspan>
        <tspan fontStyle="italic">n</tspan>
        <tspan fontSize={78} dy={17}>1.1</tspan>
        <tspan fontSize={78} fontStyle="italic">μm</tspan>
      </text>
    </g>
  )
}

export default function App() {
  return (
    <svg width={W} height={H} viewBox={`0 0 ${W} ${H}`} style={{ position: "absolute", left: 0, top: 0, background: "white" }}>
      <rect width={W} height={H} fill="white" />
      <TopPanel />
      <BottomPanel />
    </svg>
  )
}
